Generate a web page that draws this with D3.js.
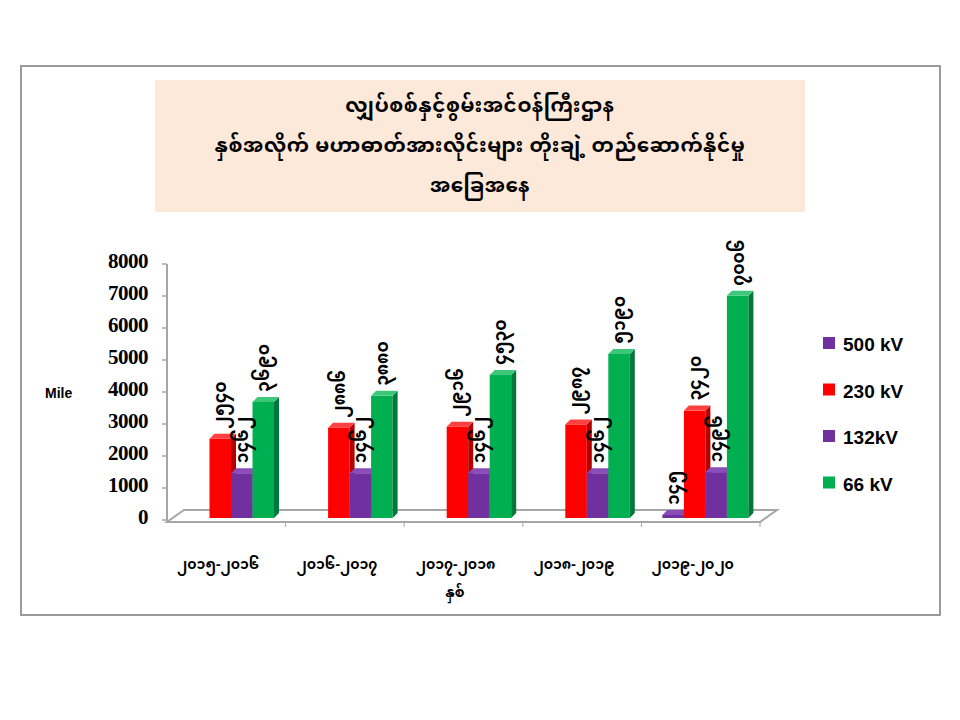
<!DOCTYPE html>
<html>
<head>
<meta charset="utf-8">
<script src="https://cdn.jsdelivr.net/npm/d3@7"></script>
<style>
  body { margin: 0; background: #ffffff; }
</style>
</head>
<body>
<div id="canvas"></div>
<script>
"use strict"

/* chart data */
let years = ["၂၀၁၅-၂၀၁၆", "၂၀၁၆-၂၀၁၇", "၂၀၁၇-၂၀၁၈", "၂၀၁၈-၂၀၁၉", "၂၀၁၉-၂၀၂၀"];
let seriesNames = ["500 kV", "230 kV", "132kV", "66 kV"];
let kv500 = [0, 0, 0, 0, 145];
let kv230 = [2540, 2886, 2916, 2987, 3420];
let kv132 = [1462, 1462, 1462, 1462, 1496];
let kv66 = [3690, 3880, 4530, 5190, 7006];
let yTicks = [0, 1000, 2000, 3000, 4000, 5000, 6000, 7000, 8000];
let titleLines = [
    "လျှပ်စစ်နှင့်စွမ်းအင်ဝန်ကြီးဌာန",
    "နှစ်အလိုက်  မဟာဓာတ်အားလိုင်းများ  တိုးချဲ့  တည်ဆောက်နိုင်မှု",
    "အခြေအနေ"
];

let colors = {
    "500 kV": ["#7030a0", "#4b1f70", "#8a4cb8"],
    "230 kV": ["#ff0000", "#b40000", "#ff4040"],
    "132kV": ["#7030a0", "#4b1f70", "#8a4cb8"],
    "66 kV": ["#00b050", "#00783a", "#3cc878"]
};

let myFont = "'Noto Sans Myanmar', 'Myanmar Text', Padauk, 'Noto Sans', sans-serif";

/* turn 1234 into Myanmar digits */
function mmDigits(n) {
    let d = "၀၁၂၃၄၅၆၇၈၉";
    return String(n).split("").map(c => d[+c]).join("");
}

let drawing = d3.select("#canvas")
    .append("svg")
    .attr("width", 960)
    .attr("height", 720);

/* outer frame */
let frame = drawing.append("rect")
    .attr("x", 21).attr("y", 66)
    .attr("width", 919).attr("height", 549)
    .attr("fill", "white")
    .attr("stroke", "#9a9a9a")
    .attr("stroke-width", 2);

/* title box */
let titleBox = drawing.append("rect")
    .attr("x", 155).attr("y", 80)
    .attr("width", 650).attr("height", 132)
    .attr("fill", "#fde9d9");

drawing.selectAll(".title")
    .data(titleLines)
    .enter()
    .append("text")
    .attr("class", "title")
    .attr("x", 480)
    .attr("y", (d, i) => 112 + i * 40)
    .attr("text-anchor", "middle")
    .attr("font-family", myFont)
    .attr("font-weight", "bold")
    .attr("font-size", 20)
    .attr("letter-spacing", 0.6)
    .text(d => d);

/* scales */
let y = d3.scaleLinear().domain([0, 8000]).range([520, 264]);
let x0 = d3.scaleBand().domain(years).range([167, 760]);
let x1 = d3.scaleBand().domain(seriesNames).range([21, 107]);

let dx = 5, dy = -5;

/* floor */
let floor = drawing.append("polygon")
    .attr("points", [[167, 522], [760, 522], [777, 510], [184, 510]].join(" "))
    .attr("fill", "none")
    .attr("stroke", "#a6a6a6")
    .attr("stroke-width", 2);

drawing.selectAll(".xtick")
    .data(years)
    .enter()
    .append("line")
    .attr("x1", d => x0(d) + x0.step())
    .attr("x2", d => x0(d) + x0.step())
    .attr("y1", 522).attr("y2", 527)
    .attr("stroke", "#a6a6a6")
    .attr("stroke-width", 1);

/* y axis */
let yAxisLine = drawing.append("line")
    .attr("x1", 167).attr("y1", y(8000))
    .attr("x2", 167).attr("y2", 522)
    .attr("stroke", "#a6a6a6")
    .attr("stroke-width", 2);

drawing.selectAll(".ytick")
    .data(yTicks)
    .enter()
    .append("line")
    .attr("x1", 162).attr("x2", 167)
    .attr("y1", d => y(d)).attr("y2", d => y(d))
    .attr("stroke", "#a6a6a6")
    .attr("stroke-width", 1.5);

drawing.selectAll(".ylabel")
    .data(yTicks)
    .enter()
    .append("text")
    .attr("x", 148)
    .attr("y", d => y(d) + 4)
    .attr("text-anchor", "end")
    .attr("font-family", "'Liberation Serif', 'Times New Roman', serif")
    .attr("font-weight", "bold")
    .attr("font-size", 21)
    .attr("letter-spacing", -0.5)
    .text(d => d);

let mileLabel = drawing.append("text")
    .attr("x", 45).attr("y", 398)
    .attr("font-family", "'Liberation Sans', Arial, sans-serif")
    .attr("font-weight", "bold")
    .attr("font-size", 14)
    .text("Mile");

/* bars, one list per series, drawn left to right so fronts cover sides */
let allSeries = [kv500, kv230, kv132, kv66];
let bars = [];
years.forEach((yr, i) => {
    seriesNames.forEach((s, j) => {
        bars.push({ year: yr, name: s, value: allSeries[j][i] });
    });
});

let barGroups = drawing.selectAll(".bar")
    .data(bars.filter(d => d.value > 0))
    .enter()
    .append("g")
    .attr("class", "bar");

barGroups.each(function (d) {
    let g = d3.select(this);
    let left = x0(d.year) + x1(d.name);
    let w = x1.bandwidth();
    let top = y(d.value);
    let bottom = y(0) - 2;
    if (bottom - top < 3) top = bottom - 3;
    let c = colors[d.name];

    g.append("rect")
        .attr("x", left).attr("y", top)
        .attr("width", w).attr("height", bottom - top)
        .attr("fill", c[0]);

    g.append("polygon")
        .attr("points", [[left + w, top], [left + w + dx, top + dy],
            [left + w + dx, bottom + dy], [left + w, bottom]].join(" "))
        .attr("fill", c[1]);

    g.append("polygon")
        .attr("points", [[left, top], [left + dx, top + dy],
            [left + w + dx, top + dy], [left + w, top]].join(" "))
        .attr("fill", c[2]);
});

/* rotated value labels */
drawing.selectAll(".vlabel")
    .data(bars.filter(d => d.value > 0))
    .enter()
    .append("text")
    .attr("transform", d => {
        let cx = x0(d.year) + x1(d.name) + x1.bandwidth() / 2 + 6;
        let cy = Math.min(y(d.value), y(0) - 5) - 10;
        return "translate(" + cx + "," + cy + ") rotate(-90)";
    })
    .attr("font-family", myFont)
    .attr("font-weight", "bold")
    .attr("font-size", 17)
    .text(d => mmDigits(d.value));

/* category labels */
drawing.selectAll(".xlabel")
    .data(years)
    .enter()
    .append("text")
    .attr("x", d => x0(d) + x0.bandwidth() / 2 - 8)
    .attr("y", 569)
    .attr("text-anchor", "middle")
    .attr("font-family", myFont)
    .attr("font-weight", "bold")
    .attr("font-size", 14)
    .text(d => d);

let xTitle = drawing.append("text")
    .attr("x", 455).attr("y", 597)
    .attr("text-anchor", "middle")
    .attr("font-family", myFont)
    .attr("font-weight", "bold")
    .attr("font-size", 14)
    .text("နှစ်");

/* legend */
let legend = drawing.selectAll(".legend")
    .data(seriesNames)
    .enter()
    .append("g")
    .attr("transform", (d, i) => "translate(823," + (337 + i * 46.5) + ")");

legend.append("rect")
    .attr("width", 12).attr("height", 12)
    .attr("fill", d => colors[d][0]);

legend.append("text")
    .attr("x", 20).attr("y", 14)
    .attr("font-family", "'Liberation Sans', Arial, sans-serif")
    .attr("font-weight", "bold")
    .attr("font-size", 19)
    .text(d => d);
</script>
</body>
</html>
